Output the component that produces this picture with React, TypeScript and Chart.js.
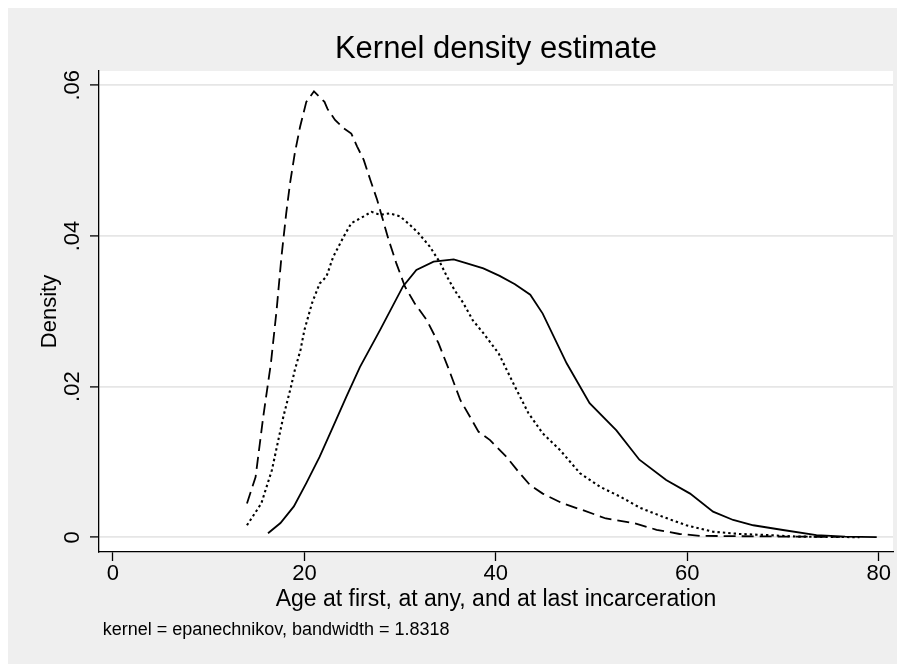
import React, { useEffect, useRef } from "react";
import { Chart, registerables } from "chart.js";

Chart.register(...registerables);

const TITLE = "Kernel density estimate";
const X_TITLE = "Age at first, at any, and at last incarceration";
const Y_TITLE = "Density";
const NOTE = "kernel = epanechnikov, bandwidth = 1.8318";

const X_TICKS = [0, 20, 40, 60, 80];
const Y_TICKS = [0, 0.02, 0.04, 0.06];
const Y_TICK_LABELS = ["0", ".02", ".04", ".06"];

// Age at first incarceration (dashed)
const FIRST_X = [14.0, 14.9, 15.7, 16.5, 17.1, 17.6, 18.1, 18.5, 19.0, 19.55, 20.2, 21.0, 22.1, 22.4, 23.2, 24.1, 24.9, 25.5, 26.2, 26.9, 27.6, 28.1, 28.8, 29.6, 30.5, 31.5, 32.8, 34.0, 35.0, 36.3, 37.3, 38.2, 39.4, 41.1, 42.5, 43.6, 44.9, 47.0, 49.1, 51.5, 54.4, 56.8, 59.2, 61.3, 65.0, 70.0, 76.0];
const FIRST_Y = [0.0045, 0.0080, 0.0160, 0.0231, 0.0302, 0.0372, 0.0430, 0.0470, 0.0510, 0.0545, 0.0578, 0.0592, 0.0578, 0.0569, 0.0554, 0.0543, 0.0536, 0.0519, 0.0501, 0.0474, 0.0448, 0.0426, 0.0395, 0.0364, 0.0333, 0.0311, 0.0288, 0.0258, 0.0226, 0.0182, 0.0160, 0.0140, 0.0129, 0.0107, 0.0085, 0.0069, 0.0058, 0.0045, 0.0036, 0.0025, 0.0019, 0.0010, 0.00044, 0.0002, 0.00015, 0.0001, 0.00005];

// Age at any incarceration (dotted)
const ANY_X = [14.0, 15.5, 16.6, 17.8, 18.6, 19.0, 19.6, 20.0, 20.8, 21.6, 22.3, 23.0, 24.1, 24.9, 26.2, 27.0, 27.9, 28.9, 30.0, 31.0, 31.9, 33.1, 34.2, 34.9, 35.7, 36.6, 37.6, 38.7, 40.3, 42.0, 43.4, 44.9, 46.7, 48.8, 50.9, 53.0, 55.1, 57.5, 59.9, 62.7, 65.5, 68.3, 71.4, 75.0, 78.0];
const ANY_Y = [0.0016, 0.0045, 0.0089, 0.0160, 0.0200, 0.0222, 0.0249, 0.0275, 0.0311, 0.0337, 0.0346, 0.0372, 0.0399, 0.0417, 0.0426, 0.0432, 0.0428, 0.0430, 0.0426, 0.0415, 0.0404, 0.0386, 0.0364, 0.0346, 0.0328, 0.0311, 0.0288, 0.0271, 0.0244, 0.0200, 0.0165, 0.0138, 0.0116, 0.0085, 0.0067, 0.0054, 0.0039, 0.0027, 0.0016, 0.00074, 0.00044, 0.0003, 0.0001, 0.00005, 0.00002];

// Age at last incarceration (solid)
const LAST_X = [16.2, 17.5, 18.9, 20.2, 21.6, 23.0, 24.4, 25.8, 27.9, 30.3, 31.7, 33.5, 35.6, 36.9, 38.7, 40.4, 42.0, 43.6, 44.9, 47.4, 49.8, 52.6, 55.0, 57.8, 60.3, 62.7, 64.8, 66.9, 70.0, 73.5, 76.5, 79.8];
const LAST_Y = [0.00053, 0.0019, 0.0041, 0.0072, 0.0107, 0.0147, 0.0187, 0.0226, 0.0275, 0.0333, 0.0355, 0.0366, 0.0369, 0.0364, 0.0357, 0.0347, 0.0336, 0.0322, 0.0297, 0.0231, 0.0178, 0.0142, 0.0103, 0.0076, 0.0058, 0.0034, 0.0023, 0.0016, 0.00097, 0.0003, 0.0001, 0.00002];

const FONT = '"Liberation Sans", Arial, Helvetica, sans-serif';
const CANVAS_W = 897;
const CANVAS_H = 656;

const toPoints = (xs: number[], ys: number[]) => xs.map((x, i) => ({ x, y: ys[i] }));

const stataPlugin = {
  id: "stataDecor",
  beforeDraw(chart: any) {
    const { ctx, width, height, chartArea: a } = chart;
    ctx.save();
    ctx.fillStyle = "#efefef";
    ctx.fillRect(0, 0, width, height);
    ctx.fillStyle = "#ffffff";
    ctx.fillRect(a.left, a.top, a.right - a.left, a.bottom - a.top);
    ctx.restore();
  },
  afterDraw(chart: any) {
    const { ctx, chartArea: a, scales } = chart;
    ctx.save();
    ctx.fillStyle = "#000";
    // main title
    ctx.font = `31px ${FONT}`;
    ctx.textAlign = "center";
    ctx.textBaseline = "alphabetic";
    ctx.fillText(TITLE, (a.left + a.right) / 2, 49.5);
    // rotated y tick labels
    ctx.font = `22px ${FONT}`;
    Y_TICKS.forEach((v, i) => {
      const y = scales.y.getPixelForValue(v);
      ctx.save();
      ctx.translate(a.left - 20.5, y);
      ctx.rotate(-Math.PI / 2);
      ctx.textAlign = "center";
      ctx.textBaseline = "alphabetic";
      ctx.fillText(Y_TICK_LABELS[i], 0, 0);
      ctx.restore();
    });
    // note
    ctx.font = `18px ${FONT}`;
    ctx.textAlign = "left";
    ctx.textBaseline = "alphabetic";
    ctx.fillText(NOTE, a.left + 3.7, 627);
    ctx.restore();
  },
};

export default function App() {
  const ref = useRef<HTMLCanvasElement | null>(null);

  useEffect(() => {
    document.documentElement.style.overflow = "hidden";
    document.body.style.overflow = "hidden";
    const canvas = ref.current;
    if (!canvas) return;
    const lineBase = {
      borderColor: "#000",
      backgroundColor: "#000",
      borderWidth: 1.8,
      pointRadius: 0,
      pointHoverRadius: 0,
      tension: 0,
      fill: false,
    };
    const chart = new Chart(canvas, {
      type: "line",
      data: {
        datasets: [
          { ...lineBase, label: "last", data: toPoints(LAST_X, LAST_Y) },
          { ...lineBase, label: "first", data: toPoints(FIRST_X, FIRST_Y), borderDash: [12, 6] },
          { ...lineBase, label: "any", data: toPoints(ANY_X, ANY_Y), borderDash: [2.4, 3], borderWidth: 2.1 },
        ],
      },
      options: {
        animation: false,
        responsive: false,
        devicePixelRatio: 1,
        layout: { padding: { top: 63, right: 12, bottom: 0, left: 0 } },
        plugins: {
          legend: { display: false },
          title: { display: false },
          tooltip: { enabled: false },
        },
        scales: {
          x: {
            type: "linear",
            min: -1.46,
            max: 81.5,
            afterBuildTicks: (scale: any) => {
              scale.ticks = X_TICKS.map((v) => ({ value: v }));
            },
            afterFit: (scale: any) => {
              scale.height = 112;
            },
            ticks: {
              autoSkip: false,
              maxRotation: 0,
              minRotation: 0,
              padding: 0,
              color: "#000",
              font: { family: FONT, size: 22 },
              callback: (v: any) => String(v),
            },
            grid: {
              drawOnChartArea: false,
              drawTicks: true,
              tickLength: 9,
              tickColor: "#000",
              tickWidth: 1.3,
            },
            border: { display: true, color: "#000", width: 1.3 },
            title: {
              display: true,
              text: X_TITLE,
              color: "#000",
              font: { family: FONT, size: 23 },
              padding: { top: 0, bottom: 50.9 },
            },
          },
          y: {
            type: "linear",
            min: -0.00195,
            max: 0.0619,
            afterBuildTicks: (scale: any) => {
              scale.ticks = Y_TICKS.map((v) => ({ value: v }));
            },
            afterFit: (scale: any) => {
              scale.width = 91;
            },
            ticks: { display: false },
            grid: {
              color: "#e6e6e6",
              lineWidth: 1.8,
              drawTicks: true,
              tickLength: 9,
              tickColor: "#000",
              tickWidth: 1.3,
            },
            border: { display: true, color: "#000", width: 1.3 },
            title: {
              display: true,
              text: Y_TITLE,
              color: "#000",
              font: { family: FONT, size: 22 },
              padding: { top: 28.5, bottom: 0 },
            },
          },
        },
      },
      plugins: [stataPlugin],
    } as any);
    return () => chart.destroy();
  }, []);

  return (
    <canvas
      ref={ref}
      width={CANVAS_W}
      height={CANVAS_H}
      style={{ display: "block", width: CANVAS_W, height: CANVAS_H }}
    />
  );
}
